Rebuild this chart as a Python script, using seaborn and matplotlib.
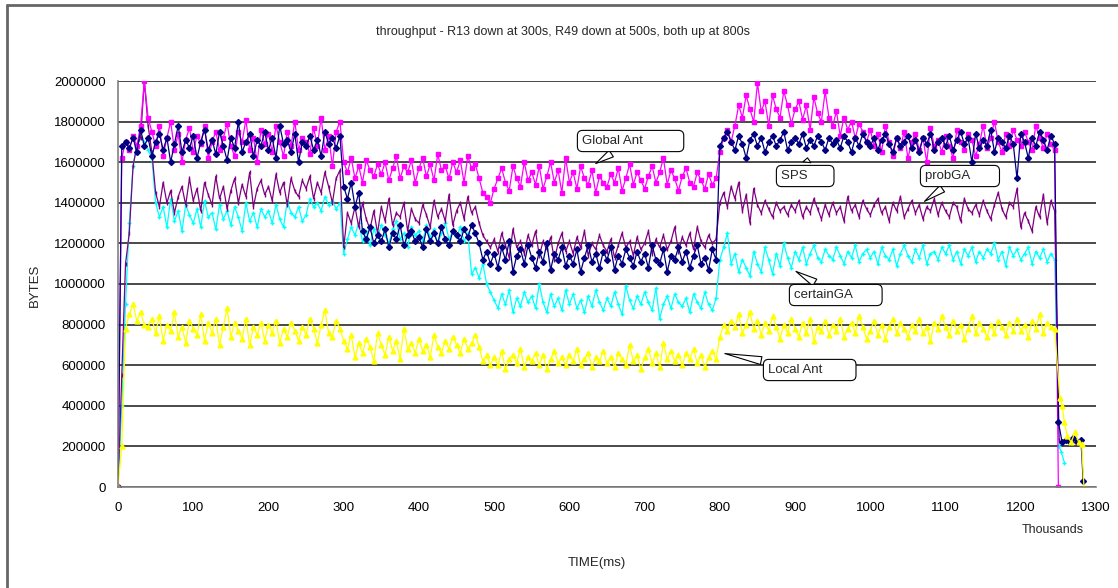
import numpy as np
import pandas as pd
import matplotlib
matplotlib.use("Agg")
import matplotlib.pyplot as plt
from matplotlib.lines import Line2D
from matplotlib.ticker import FuncFormatter
import seaborn as sns

# ---------------- data (values in units of 10,000 bytes) ----------------
time_k = list(range(0, 1250, 5))  # thousands of ms, step 5

sps = [
    0,168,170,167,172,165,176,168,172,163,
    170,174,166,172,160,169,178,165,171,167,
    173,162,170,176,166,171,164,175,168,161,
    172,167,180,165,170,174,163,171,168,175,
    166,172,162,178,169,171,165,174,160,170,
    168,173,166,171,163,175,169,172,167,173,
    148,142,150,138,145,126,122,128,120,124,
    121,127,118,125,122,129,119,124,126,121,
    123,118,127,121,125,120,128,122,119,126,
    124,121,127,123,129,125,120,112,116,110,
    115,108,118,112,121,106,114,117,110,119,
    113,108,116,111,120,107,115,112,118,109,
    114,110,117,106,113,119,111,115,108,116,
    112,118,107,114,110,117,113,109,116,111,
    115,108,119,112,110,117,106,114,112,118,
    111,116,108,114,119,110,113,107,117,112,
    168,172,175,170,166,173,169,162,171,174,
    168,172,165,170,173,168,171,175,166,170,
    172,169,174,167,171,168,173,170,166,172,
    169,171,167,173,170,165,172,168,174,170,
    168,172,166,171,174,169,165,172,168,170,
    173,167,171,165,172,169,174,166,170,172,
    168,173,166,171,175,169,172,160,174,167,
    171,168,176,165,172,170,167,173,169,152,
    174,170,162,172,168,175,171,166,173,169,
]
sps_tail_t = [1250, 1255, 1260, 1265, 1270, 1275, 1280, 1283]
sps_tail = [32, 22, 23, 22, 24, 22, 23, 3]

global_ant = [
    0,162,170,166,173,168,178,200,182,175,
    168,178,163,172,180,166,174,160,171,177,
    165,173,169,178,162,170,175,166,172,179,
    168,163,175,170,181,166,172,160,176,169,
    174,165,178,170,163,175,168,180,166,172,
    170,164,177,168,182,166,173,158,175,180,
    160,155,162,152,158,150,161,156,153,159,
    154,160,151,157,163,152,158,155,161,150,
    157,162,153,159,151,164,156,158,152,160,
    155,161,150,163,157,159,152,145,143,140,
    147,152,157,150,146,158,152,148,160,151,
    155,149,158,147,153,160,150,156,145,162,
    150,155,147,158,152,149,156,145,153,150,
    148,154,150,157,146,152,159,149,155,151,
    147,153,158,150,155,162,149,156,152,146,
    153,157,150,148,155,151,147,154,149,152,
    165,172,176,170,178,188,182,193,186,180,
    199,185,190,178,193,186,182,195,188,179,
    186,190,181,188,176,192,184,180,195,182,
    178,185,173,182,176,180,172,179,175,170,
    176,168,174,165,178,170,163,172,167,175,
    162,170,174,166,172,160,177,168,171,165,
    173,168,162,176,170,166,174,171,163,169,
    178,167,172,180,170,165,174,168,176,171,
    168,175,170,166,178,172,167,174,169,166,
]
global_tail_t = [1250]
global_tail = [0]

prob_ga = [
    0,55,110,125,158,168,172,200,178,165,
    145,138,150,140,146,135,143,148,139,152,
    141,147,136,150,144,139,153,142,148,137,
    146,152,140,149,143,155,138,147,151,144,
    148,141,154,145,150,139,152,146,143,151,
    147,153,142,150,145,155,148,140,152,156,
    118,135,130,138,128,140,132,127,136,125,
    138,131,142,129,135,133,140,126,137,132,
    130,139,134,128,141,133,137,131,144,129,
    136,140,132,143,135,138,130,124,121,118,
    122,116,125,119,113,127,118,121,115,124,
    119,126,114,121,117,123,112,120,125,116,
    121,115,123,118,126,114,120,117,124,119,
    116,122,113,119,125,118,121,114,123,117,
    120,126,115,122,118,124,117,121,128,116,
    123,119,125,117,128,121,118,124,120,122,
    140,145,138,148,142,150,136,144,130,147,
    139,135,141,137,133,140,136,138,134,139,
    136,141,133,138,135,142,137,132,139,134,
    140,135,138,131,143,136,139,133,141,137,
    134,139,142,135,138,131,140,136,143,133,
    137,141,135,139,132,138,136,142,134,140,
    136,133,140,138,131,142,137,135,139,134,
    141,136,132,139,145,137,133,140,138,147,
    128,135,131,126,138,133,144,130,141,136,
]
prob_tail_t = [1251]
prob_tail = [23]

certain_ga = [
    0,40,90,130,158,168,172,170,166,162,
    140,133,138,128,142,131,136,126,139,134,
    130,137,128,141,133,135,127,139,132,136,
    129,138,133,126,140,131,135,128,137,133,
    136,130,139,132,128,141,135,133,138,131,
    134,142,138,140,136,143,139,141,137,140,
    115,122,128,124,130,121,126,119,127,123,
    129,124,120,127,131,122,125,118,128,124,
    126,121,129,123,127,120,125,130,122,126,
    123,128,121,125,105,108,103,110,100,96,
    92,88,95,90,97,86,93,89,96,91,
    94,88,100,91,86,95,89,93,87,97,
    90,95,88,92,86,94,89,97,91,87,
    93,89,96,90,85,99,92,88,94,90,
    96,91,87,98,83,90,94,88,95,91,
    89,93,86,95,91,88,96,90,87,93,
    112,118,125,110,115,106,112,108,104,116,
    110,106,118,112,105,115,109,120,113,108,
    116,112,118,110,115,119,113,111,117,114,
    112,118,114,110,116,113,119,111,115,117,
    113,116,110,118,114,112,117,109,115,119,
    114,111,117,113,119,110,115,116,112,118,
    115,119,112,116,110,117,114,118,111,116,
    113,117,115,120,112,116,109,118,114,117,
    112,115,118,110,116,113,117,111,115,112,
]
certain_tail_t = [1251, 1254, 1258]
certain_tail = [20, 17, 12]

local_ant = [
    0,20,78,85,90,82,86,80,79,83,
    76,84,72,80,77,86,74,79,71,82,
    78,75,85,72,81,76,83,70,79,88,
    74,81,77,73,83,70,79,75,81,72,
    80,76,82,71,78,74,81,77,72,79,
    75,83,78,71,80,87,76,74,82,78,
    72,68,75,64,71,66,73,69,62,76,
    70,65,74,67,72,63,78,68,71,66,
    73,67,70,64,75,69,66,72,68,74,
    70,66,73,68,71,75,69,62,65,60,
    64,60,67,58,63,65,61,68,59,64,
    62,66,60,65,58,63,67,61,64,60,
    65,62,68,60,63,66,59,64,62,67,
    61,64,59,66,63,60,70,62,65,58,
    64,68,61,66,59,71,63,67,62,65,
    60,66,63,68,61,65,59,64,67,63,
    74,80,77,82,79,85,76,80,86,78,
    82,75,81,77,84,79,73,80,76,83,
    78,74,81,76,83,72,79,77,82,75,
    80,77,83,74,78,81,76,84,79,73,
    77,82,75,80,73,79,83,76,81,78,
    74,80,77,83,76,79,72,81,78,84,
    79,75,82,77,80,73,78,84,76,81,
    78,74,80,76,82,79,75,81,77,83,
    77,80,74,82,78,85,76,81,79,78,
]
local_tail_t = [1252, 1255, 1258, 1262, 1267, 1272, 1277, 1281, 1284]
local_tail = [44, 40, 32, 25, 22, 27, 22, 21, 0]

series_names = ["certainGA", "probGA", "Global Ant", "SPS", "Local Ant"]
series_colors = ["#00FFFF", "#800080", "#FF00FF", "#000080", "#FFFF00"]
series_markers = ["+", "|", "s", "D", "^"]

y_ticks = [0, 200000, 400000, 600000, 800000, 1000000, 1200000, 1400000,
           1600000, 1800000, 2000000]
x_ticks = list(range(0, 1301, 100))

title = "throughput - R13 down at 300s, R49 down at 500s, both up at 800s"

# ---------------- build long-form table ----------------
series_data = {
    "certainGA": (time_k + certain_tail_t, certain_ga + certain_tail),
    "probGA": (time_k + prob_tail_t, prob_ga + prob_tail),
    "Global Ant": (time_k + global_tail_t, global_ant + global_tail),
    "SPS": (time_k + sps_tail_t, sps + sps_tail),
    "Local Ant": (time_k + local_tail_t, local_ant + local_tail),
}
frames = []
for name in series_names:
    t, v = series_data[name]
    frames.append(pd.DataFrame({"time": t,
                                "bytes": np.array(v) * 10000,
                                "series": name}))
df = pd.concat(frames, ignore_index=True)

# ---------------- plot ----------------
sns.set_theme(style="white")
plt.rcParams["font.family"] = ["Liberation Sans", "DejaVu Sans"]

fig = plt.figure(figsize=(11.18, 5.88), dpi=100)
ax = fig.add_axes([118 / 1118, 1 - 487 / 588, (1096 - 118) / 1118, (487 - 81) / 588])

msizes = {"+": 3.5, "|": 3.5, "s": 3.0, "D": 3.0, "^": 3.5}
for name, col, mk in zip(series_names, series_colors, series_markers):
    sub = df[df["series"] == name]
    sns.lineplot(data=sub, x="time", y="bytes", ax=ax, color=col,
                 estimator=None, sort=False, legend=False,
                 marker=mk, markersize=msizes[mk], markeredgecolor=col,
                 markeredgewidth=1.0, linewidth=0.9)

ax.set_xlim(0, 1300)
ax.set_ylim(0, 2000000)
ax.set_xticks(x_ticks)
ax.set_yticks(y_ticks)
ax.yaxis.set_major_formatter(FuncFormatter(lambda v, p: f"{int(round(v))}"))
ax.xaxis.set_major_formatter(FuncFormatter(lambda v, p: f"{int(round(v))}"))
ax.tick_params(axis="both", direction="out", length=5, width=1,
               color="#808080", labelsize=9.5, pad=4, labelcolor="black")
ax.tick_params(axis="x", pad=6)
ax.grid(axis="y", color="#3a3a3a", linewidth=1.3)
ax.grid(axis="x", visible=False)
ax.set_axisbelow(True)
for s in ("top", "right"):
    ax.spines[s].set_visible(False)
for s in ("left", "bottom"):
    ax.spines[s].set_color("#808080")
    ax.spines[s].set_linewidth(1.2)

ax.set_xlabel("")
ax.set_ylabel("")
fig.text(35 / 1118, 1 - 285 / 588, "BYTES", rotation=90, ha="center",
         va="center", fontsize=9.5)
fig.text(597 / 1118, 1 - 563 / 588, "TIME(ms)", ha="center", va="center",
         fontsize=9.5)
fig.text(1053 / 1118, 1 - 530 / 588, "Thousands", ha="center", va="center",
         fontsize=9)
fig.text(563 / 1118, 1 - 32 / 588, title, ha="center", va="center",
         fontsize=9)

# callouts
callouts = [
    ("Global Ant", (582, 141), (632, 1586000)),
    ("SPS", (781, 176), (917, 1635000)),
    ("probGA", (925, 176), (1069, 1399000)),
    ("certainGA", (794, 295), (898, 1069000)),
    ("Local Ant", (768, 370), (803, 660000)),
]
pads = {"Global Ant": "          ", "SPS": "      ", "probGA": "       ",
        "certainGA": "       ", "Local Ant": "        "}
for label, (px, py), tip in callouts:
    ax.annotate(label + pads[label], xy=tip, xycoords="data",
                xytext=(px / 1118, 1 - py / 588), textcoords="figure fraction",
                ha="left", va="center", fontsize=9.5,
                bbox=dict(boxstyle="round,pad=0.35,rounding_size=0.4",
                          fc="white", ec="black", lw=0.8),
                arrowprops=dict(arrowstyle="wedge,tail_width=0.6,shrink_factor=0.5",
                                fc="white", ec="black", lw=0.8),
                zorder=10)

# chart-area border (left and top visible)
fig.add_artist(Line2D([7 / 1118, 7 / 1118], [0, 1 - 5 / 588],
                      transform=fig.transFigure, color="#666666", lw=2))
fig.add_artist(Line2D([7 / 1118, 1], [1 - 5 / 588, 1 - 5 / 588],
                      transform=fig.transFigure, color="#666666", lw=2))

fig.savefig("out.png", dpi=100)
